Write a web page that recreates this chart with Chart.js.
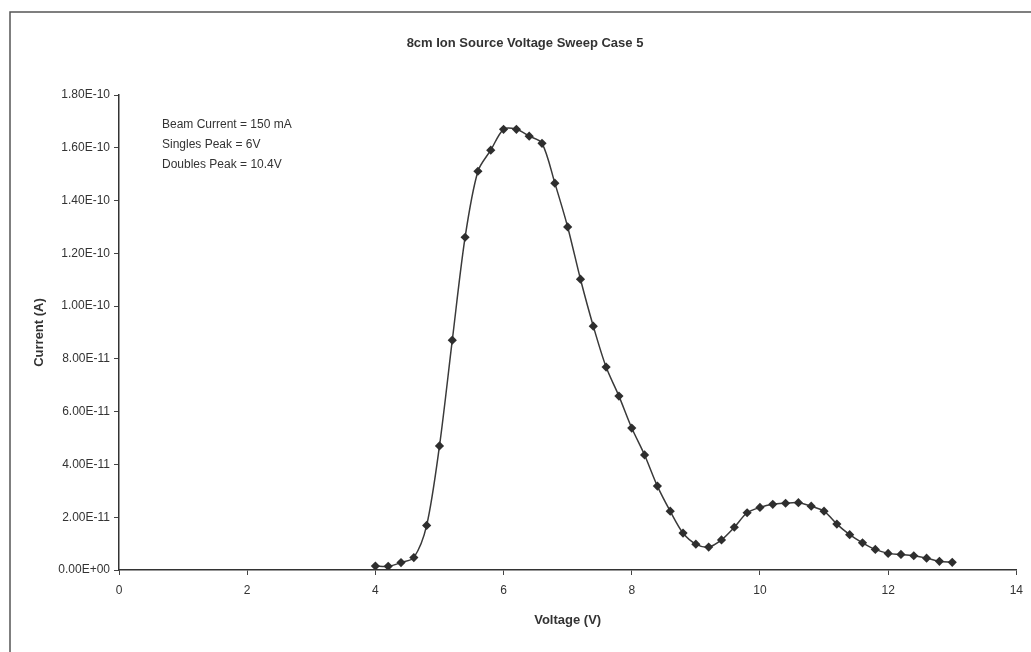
<!DOCTYPE html>
<html>
<head>
<meta charset="utf-8">
<title>8cm Ion Source Voltage Sweep Case 5</title>
<script src="https://cdn.jsdelivr.net/npm/chart.js@4.4.1/dist/chart.umd.min.js"></script>
<style>
  body { margin: 0; background: #fff; }
  #sweepChart { display: block; }
</style>
</head>
<body>
<canvas id="sweepChart" width="1031" height="652"></canvas>
<script>
// ================= DATA =================
const chartTitle = "8cm Ion Source Voltage Sweep Case 5";
const notes = ["Beam Current = 150 mA", "Singles Peak = 6V", "Doubles Peak = 10.4V"];

const voltage = [
  4.0, 4.2, 4.4, 4.6, 4.8, 5.0, 5.2, 5.4, 5.6, 5.8,
  6.0, 6.2, 6.4, 6.6, 6.8, 7.0, 7.2, 7.4, 7.6, 7.8,
  8.0, 8.2, 8.4, 8.6, 8.8, 9.0, 9.2, 9.4, 9.6, 9.8,
  10.0, 10.2, 10.4, 10.6, 10.8, 11.0, 11.2, 11.4, 11.6, 11.8,
  12.0, 12.2, 12.4, 12.6, 12.8, 13.0
];
const current = [
  0.15e-11, 0.14e-11, 0.28e-11, 0.47e-11, 1.69e-11, 4.70e-11, 8.71e-11, 12.61e-11, 15.11e-11, 15.91e-11,
  16.70e-11, 16.70e-11, 16.44e-11, 16.17e-11, 14.66e-11, 13.00e-11, 11.02e-11, 9.24e-11, 7.69e-11, 6.59e-11,
  5.38e-11, 4.36e-11, 3.18e-11, 2.23e-11, 1.40e-11, 0.98e-11, 0.87e-11, 1.14e-11, 1.62e-11, 2.17e-11,
  2.37e-11, 2.49e-11, 2.53e-11, 2.55e-11, 2.42e-11, 2.23e-11, 1.74e-11, 1.34e-11, 1.03e-11, 0.78e-11,
  0.63e-11, 0.59e-11, 0.54e-11, 0.45e-11, 0.33e-11, 0.29e-11
];

const xTicks = [0, 2, 4, 6, 8, 10, 12, 14];
const yTicks = [0, 2e-11, 4e-11, 6e-11, 8e-11, 1e-10, 1.2e-10, 1.4e-10, 1.6e-10, 1.8e-10];

// ================= HELPERS =================
const FONT = "'Liberation Sans', Arial, sans-serif";
const INK = "#333";

// Excel style 0.00E+00
function sci(v) {
  const [m, e] = Number(v).toExponential(2).split("e");
  const sign = e[0] === "-" ? "-" : "+";
  const digits = e.replace(/^[+-]/, "").padStart(2, "0");
  return m + "E" + sign + digits;
}

// background, frame, title and the note block
const decor = {
  id: "decor",
  beforeDraw(chart) {
    const c = chart.ctx;
    c.save();
    c.fillStyle = "#fff";
    c.fillRect(0, 0, chart.width, chart.height);
    c.strokeStyle = "#555";
    c.lineWidth = 1.5;
    c.strokeRect(10, 12, chart.width + 20, chart.height + 20);
    c.restore();
  },
  afterDraw(chart) {
    const c = chart.ctx;
    c.save();
    c.fillStyle = INK;
    c.textBaseline = "middle";
    c.textAlign = "center";
    c.font = "bold 13px " + FONT;
    c.fillText(chartTitle, 525, 43);
    c.textAlign = "left";
    c.font = "12px " + FONT;
    notes.forEach((t, i) => c.fillText(t, 162, 125 + i * 20));
    c.restore();
  }
};

// ================= CHART =================
new Chart(document.getElementById("sweepChart"), {
  type: "scatter",
  data: {
    datasets: [{
      label: "Current",
      data: voltage.map((v, i) => ({ x: v, y: current[i] })),
      showLine: true,
      borderColor: "#3a3a3a",
      borderWidth: 1.5,
      backgroundColor: "#2e2e2e",
      pointStyle: "rectRot",
      pointRadius: 4.6,
      pointBorderWidth: 0,
      tension: 0.3
    }]
  },
  options: {
    responsive: false,
    animation: false,
    layout: { padding: { top: 95, left: 0, right: 14, bottom: 0 } },
    plugins: {
      legend: { display: false },
      title: { display: false },
      tooltip: { enabled: false }
    },
    scales: {
      x: {
        type: "linear",
        min: 0,
        max: 14,
        afterBuildTicks: s => { s.ticks = xTicks.map(v => ({ value: v })); },
        afterFit: s => { s.height = 82; },
        grid: { drawOnChartArea: false, drawTicks: true, tickLength: 5, color: "#444" },
        border: { display: true, color: INK, width: 1.5 },
        ticks: { color: INK, font: { family: FONT, size: 12 }, padding: 8, maxRotation: 0 },
        title: {
          display: true,
          text: "Voltage (V)",
          color: INK,
          font: { family: FONT, size: 13, weight: "bold" },
          padding: { top: 0, bottom: 24 }
        }
      },
      y: {
        type: "linear",
        min: 0,
        max: 1.8e-10,
        afterBuildTicks: s => { s.ticks = yTicks.map(v => ({ value: v })); },
        afterFit: s => { s.width = 119; },
        grid: { drawOnChartArea: false, drawTicks: true, tickLength: 5, color: "#444" },
        border: { display: true, color: INK, width: 1.5 },
        ticks: { color: INK, font: { family: FONT, size: 12 }, padding: 4, callback: v => sci(v) },
        title: {
          display: true,
          text: "Current (A)",
          color: INK,
          font: { family: FONT, size: 13, weight: "bold" },
          padding: { top: 32, bottom: 0 }
        }
      }
    }
  },
  plugins: [decor]
});
</script>
</body>
</html>
